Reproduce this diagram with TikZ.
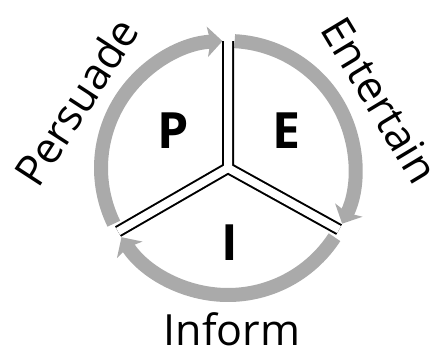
\documentclass[tikz,border=0pt]{standalone}
\usepackage{fontspec}
\setmainfont{Open Sans}
\usetikzlibrary{arrows.meta}
\definecolor{cyclegray}{HTML}{AAAAAA}
\tikzset{
    cyclearc/.style={cyclegray, line width=14pt, -{Stealth[width=30pt,length=15pt,inset=3pt]}},
    partletter/.style={font=\bfseries\fontsize{50}{50}\selectfont},
    purpose/.style={inner sep=0pt, font=\fontsize{43}{43}\selectfont}
}
\begin{document}
\begin{tikzpicture}[x=1pt,y=-1pt]
    \useasboundingbox (0,0) rectangle (433,351);
    \coordinate (c) at (228,168);

    % the three arrows round the circle (y points down, so angles are negated)
    \draw[cyclearc] (c) ++(-87:127) arc[start angle=-87, end angle=26, radius=127];
    \draw[cyclearc] (c) ++(33:127) arc[start angle=33, end angle=147, radius=127];
    \draw[cyclearc] (c) ++(-206:127) arc[start angle=-206, end angle=-92.5, radius=127];

    % the separators
    \path (c) ++(-90:127) coordinate (stop);
    \path (c) ++(29:127) coordinate (sright);
    \path (c) ++(-210:127) coordinate (sleft);
    \foreach \w/\col in {12/black,8/white}
        \draw[\col, line width=\w pt] (stop) -- (c) -- (sright) (c) -- (sleft);

    \node[partletter] (p) at (173,131) {P};
    \node[partletter] (e) at (286,131) {E};
    \node[partletter] (i) at (230,243) {I};

    \node[purpose, rotate=57] (persuade) at (76,102) {Persuade};
    \node[purpose, rotate=-59] (entertain) at (380,100) {Entertain};
    \node[purpose] (inform) at (232,329) {Inform};
\end{tikzpicture}
\end{document}
